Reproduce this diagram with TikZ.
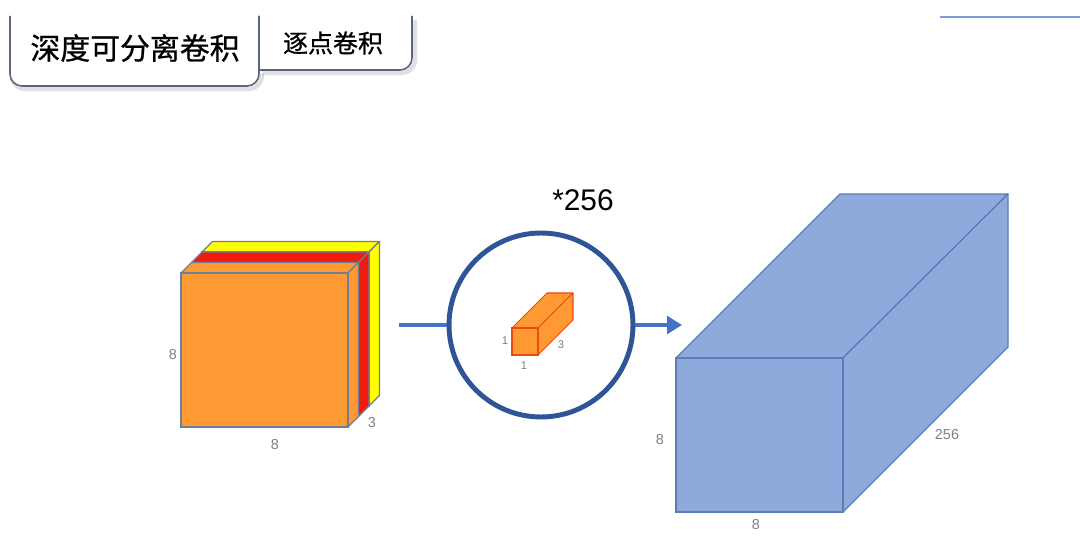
\documentclass[tikz,border=0pt]{standalone}
\usepackage{fontspec}
\setmainfont{Liberation Sans}
\newfontfamily\cjk[FakeBold=0.8]{Noto Sans CJK SC}
\usetikzlibrary{arrows.meta}
\definecolor{org}{HTML}{FF9933}
\definecolor{rd}{HTML}{F01A10}
\definecolor{ylw}{HTML}{FFFF00}
\definecolor{cubeedge}{HTML}{6E7F95}
\definecolor{bluefill}{HTML}{8EA9DB}
\definecolor{blueedge}{HTML}{5B7DB5}
\definecolor{arrowblue}{HTML}{4472C4}
\definecolor{ringblue}{HTML}{2F5597}
\definecolor{tabedge}{HTML}{5A6580}
\definecolor{lblgray}{HTML}{7F7F7F}
\definecolor{smalledge}{HTML}{F04A10}
\tikzset{
  lbl/.style={text=lblgray, font=\fontsize{8.2}{9}\selectfont, inner sep=0pt},
  slbl/.style={text=lblgray, font=\fontsize{6.4}{7}\selectfont, inner sep=0pt},
  tabline/.style={draw=tabedge, line width=0.9pt, fill=white},
  tabshadow/.style={draw=black, line width=2.5pt, opacity=0.12},
  layeredge/.style={draw=cubeedge, line width=0.7pt},
}
\begin{document}
\begin{tikzpicture}[x=0.02cm, y=-0.02cm]
\useasboundingbox (0,0) rectangle (1080,544);
\fill[white] (0,0) rectangle (1080,544);
% tabs shadows
\draw[tabshadow] (12,76) arc[start angle=180,end angle=90,radius=13] -- (249,89) arc[start angle=90,end angle=0,radius=13] -- (262,74);
\draw[tabshadow] (262,73) -- (402,73) arc[start angle=90,end angle=0,radius=13] -- (415,20);
% small tab
\path[tabline] (259,16) -- (259,70) -- (400,70) arc[start angle=90,end angle=0,radius=12] -- (412,16);
% big tab
\path[tabline] (10,16) -- (10,74) arc[start angle=180,end angle=90,radius=12] -- (247,86) arc[start angle=90,end angle=0,radius=12] -- (259,16);
\node[font=\cjk\fontsize{17}{18}\selectfont, inner sep=0pt] (title) at (135,48) {深度可分离卷积};
\node[font=\cjk\fontsize{14.2}{15}\selectfont, inner sep=0pt] (sub) at (333,43) {逐点卷积};
% top right line
\coordinate (tlA) at (940,17);
\coordinate (tlB) at (1080,17);
\draw[draw=arrowblue!70, line width=0.9pt] (tlA) -- (tlB);
% left stacked cube
\foreach \k/\c in {2/ylw,1/rd,0/org}{
  \pgfmathsetmacro\o{\k*10.5}
  \pgfmathsetmacro\p{\k*10.5+10.5}
  \filldraw[fill=\c, layeredge, line join=round] (181+\o,273-\o) -- (181+\p,273-\p) -- (348+\p,273-\p) -- (348+\o,273-\o) -- cycle;
  \filldraw[fill=\c, layeredge, line join=round] (348+\o,273-\o) -- (348+\p,273-\p) -- (348+\p,427-\p) -- (348+\o,427-\o) -- cycle;
  \filldraw[fill=\c, layeredge] (181+\o,273-\o) rectangle (348+\o,427-\o);
}
\node[lbl] (l8a) at (173,355) {8};
\node[lbl] (l8b) at (275,445) {8};
\node[lbl] (l3) at (372,423) {3};
% circle and arrows
\node[circle, draw=ringblue, line width=2.8pt, minimum size=3.68cm, inner sep=0pt] (conv) at (541,325) {};
\node[font=\fontsize{17}{18}\selectfont, inner sep=0pt] (mult) at (583,200) {*256};
\coordinate (in) at (399,325);
\coordinate (out) at (682,325);
\draw[arrowblue, line width=2.8pt] (in) -- (conv.west);
\draw[arrowblue, line width=2.8pt, -{Triangle[length=8.5pt,width=10pt]}] (conv.east) -- (out);
% small cuboid
\filldraw[fill=org, draw=smalledge, line width=0.6pt, line join=round] (512,328) -- (547,293) -- (573,293) -- (538,328) -- cycle;
\filldraw[fill=org, draw=smalledge, line width=0.6pt, line join=round] (538,328) -- (573,293) -- (573,320) -- (538,355) -- cycle;
\filldraw[fill=org, draw=smalledge, line width=0.6pt] (512,328) rectangle (538,355);
\node[slbl] (s1a) at (505,341) {1};
\node[slbl] (s3) at (561,345) {3};
\node[slbl] (s1b) at (524,366) {1};
% big blue cuboid
\filldraw[fill=bluefill, draw=blueedge, line width=0.7pt, line join=round] (676,358) -- (840,194) -- (1008,194) -- (843,358) -- cycle;
\filldraw[fill=bluefill, draw=blueedge, line width=0.7pt, line join=round] (843,358) -- (1008,194) -- (1008,347) -- (843,512) -- cycle;
\filldraw[fill=bluefill, draw=blueedge, line width=0.7pt] (676,358) rectangle (843,512);
\node[lbl] (b8a) at (660,440) {8};
\node[lbl] (b8b) at (756,525) {8};
\node[lbl] (b256) at (947,435) {256};
\end{tikzpicture}
\end{document}
